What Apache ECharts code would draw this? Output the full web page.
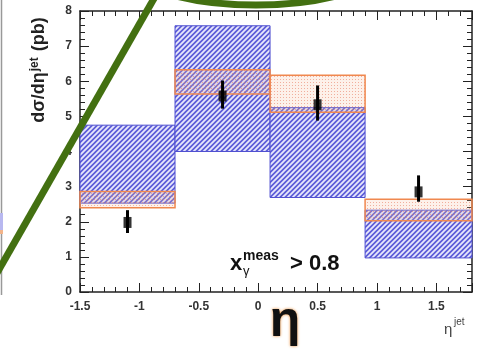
<!DOCTYPE html>
<html>
<head>
<meta charset="utf-8">
<script src="https://cdn.jsdelivr.net/npm/echarts@6/dist/echarts.min.js"></script>
<style>
  html, body { margin: 0; padding: 0; background: #fff; }
  #chart { width: 497px; height: 358px; }
</style>
</head>
<body>
<div id="chart"></div>
<script>
// bins in eta^jet and the two prediction bands (pb)
const binEdges = [-1.5, -0.7, 0.1, 0.9, 1.8]
const blueLow = [2.53, 4.0, 2.69, 0.97]
const blueHigh = [4.75, 7.58, 5.25, 2.33]
const orangeLow = [2.4, 5.64, 5.12, 2.03]
const orangeHigh = [2.86, 6.33, 6.17, 2.64]

// measured points with error bars
const pointX = [-1.1, -0.3, 0.5, 1.35]
const pointY = [1.98, 5.58, 5.33, 2.85]
const errLow = [1.68, 5.22, 4.88, 2.57]
const errHigh = [2.33, 6.02, 5.88, 3.32]

const xTicks = [-1.5, -1, -0.5, 0, 0.5, 1, 1.5]
const yTicks = [0, 1, 2, 3, 4, 5, 6, 7, 8]

function hatch() {
  const n = 5
  const c = document.createElement('canvas')
  c.width = n
  c.height = n
  const ctx = c.getContext('2d')
  ctx.fillStyle = '#5c5cd8'
  ctx.fillRect(0, 0, n, n)
  ctx.strokeStyle = '#e8e8fc'
  ctx.lineWidth = 1.8
  ctx.beginPath()
  ctx.moveTo(-1, n + 1); ctx.lineTo(n + 1, -1)
  ctx.moveTo(-1, 1); ctx.lineTo(1, -1)
  ctx.moveTo(n - 1, n + 1); ctx.lineTo(n + 1, n - 1)
  ctx.stroke()
  return c
}

function dots() {
  const n = 3
  const c = document.createElement('canvas')
  c.width = n
  c.height = n
  const ctx = c.getContext('2d')
  ctx.fillStyle = 'rgba(248, 190, 160, 0.22)'
  ctx.fillRect(0, 0, n, n)
  ctx.fillStyle = 'rgba(232, 120, 95, 0.55)'
  ctx.fillRect(1, 1, 1, 1)
  return c
}

const hatchImg = hatch()
const dotImg = dots()

function bandData(lo, hi) {
  return lo.map((v, i) => [binEdges[i], binEdges[i + 1], v, hi[i]])
}

function bandItem(makeStyle) {
  return (params, api) => {
    const p0 = api.coord([api.value(0), api.value(3)])
    const p1 = api.coord([api.value(1), api.value(2)])
    return {
      type: 'rect',
      shape: { x: p0[0], y: p0[1], width: p1[0] - p0[0], height: p1[1] - p0[1] },
      style: makeStyle(),
    }
  }
}

const axisColor = '#222'
const labelFont = { color: '#333', fontSize: 12, fontWeight: 'bold', fontFamily: 'Liberation Sans' }

function xAxis(pos, labels) {
  return {
    type: 'value',
    position: pos,
    min: xTicks[0],
    max: binEdges[binEdges.length - 1],
    interval: xTicks[1] - xTicks[0],
    axisLine: { onZero: false, lineStyle: { color: axisColor, width: 1.5 } },
    axisTick: { show: true, inside: true, length: 9, lineStyle: { color: axisColor, width: 1 } },
    minorTick: { show: true, splitNumber: 5, length: 5, lineStyle: { color: axisColor, width: 1 } },
    axisLabel: { show: labels, showMaxLabel: false, margin: 9, ...labelFont },
    splitLine: { show: false },
  }
}

function yAxis(pos, labels) {
  return {
    type: 'value',
    position: pos,
    min: yTicks[0],
    max: yTicks[yTicks.length - 1],
    interval: yTicks[1] - yTicks[0],
    axisLine: { show: true, onZero: false, lineStyle: { color: axisColor, width: 1.5 } },
    axisTick: { show: true, inside: true, length: 9, lineStyle: { color: axisColor, width: 1 } },
    minorTick: { show: true, splitNumber: 5, length: 5, lineStyle: { color: axisColor, width: 1 } },
    axisLabel: { show: labels, margin: 8, ...labelFont },
    splitLine: { show: false },
  }
}

const green = '#437011'
const textFont = 'Liberation Sans'

const chart = echarts.init(document.getElementById('chart'), null, { renderer: 'canvas' })
chart.setOption({
  backgroundColor: '#fff',
  animation: false,
  grid: { left: 80, right: 25, top: 11, bottom: 66 },
  xAxis: [xAxis('bottom', true), xAxis('top', false)],
  yAxis: [yAxis('left', true), yAxis('right', false)],
  series: [
    {
      type: 'custom',
      xAxisIndex: 0,
      yAxisIndex: 0,
      renderItem: bandItem(() => ({
        fill: { image: hatchImg, repeat: 'repeat' },
        stroke: '#5050d0',
        lineWidth: 1,
      })),
      data: bandData(blueLow, blueHigh),
      z: 2,
    },
    {
      type: 'custom',
      xAxisIndex: 0,
      yAxisIndex: 0,
      renderItem: bandItem(() => ({
        fill: { image: dotImg, repeat: 'repeat' },
        stroke: '#f0884f',
        lineWidth: 1.5,
      })),
      data: bandData(orangeLow, orangeHigh),
      z: 3,
    },
    {
      type: 'custom',
      xAxisIndex: 0,
      yAxisIndex: 0,
      renderItem: (params, api) => {
        const a = api.coord([api.value(0), api.value(1)])
        const b = api.coord([api.value(0), api.value(2)])
        return {
          type: 'line',
          shape: { x1: a[0], y1: a[1], x2: b[0], y2: b[1] },
          style: { stroke: '#000', lineWidth: 3 },
        }
      },
      data: pointX.map((x, i) => [x, errLow[i], errHigh[i]]),
      z: 4,
    },
    {
      type: 'scatter',
      xAxisIndex: 0,
      yAxisIndex: 0,
      symbol: 'rect',
      symbolSize: [8, 11],
      itemStyle: { color: '#000' },
      data: pointX.map((x, i) => [x, pointY[i]]),
      z: 5,
    },
  ],
  graphic: [
    // y axis title
    {
      type: 'text',
      x: 39,
      y: 70,
      rotation: Math.PI / 2,
      style: {
        text: '{a|dσ/dη}{s|jet}{a| (pb)}',
        align: 'center',
        verticalAlign: 'middle',
        rich: {
          a: { fontSize: 18, fontWeight: 'bold', fontFamily: textFont, fill: '#222' },
          s: { fontSize: 12, fontWeight: 'bold', fontFamily: textFont, fill: '#222', padding: [0, 1, 9, 1] },
        },
      },
    },
    // x_gamma^meas > 0.8
    { type: 'text', x: 230, y: 264, style: { text: 'x', fontSize: 22, fontWeight: 'bold', fontFamily: textFont, fill: '#111', verticalAlign: 'middle' } },
    { type: 'text', x: 243, y: 256, style: { text: 'meas', fontSize: 14, fontWeight: 'bold', fontFamily: textFont, fill: '#111', verticalAlign: 'middle' } },
    { type: 'text', x: 243, y: 271, style: { text: 'γ', fontSize: 13, fontFamily: textFont, fill: '#111', verticalAlign: 'middle' } },
    { type: 'text', x: 290, y: 264, style: { text: '> 0.8', fontSize: 22, fontWeight: 'bold', fontFamily: textFont, fill: '#111', verticalAlign: 'middle' } },
    // axis title bottom right
    { type: 'text', x: 444, y: 330, style: { text: 'η', fontSize: 15, fontFamily: textFont, fill: '#444', verticalAlign: 'middle' } },
    { type: 'text', x: 454, y: 322, style: { text: 'jet', fontSize: 10, fontFamily: textFont, fill: '#444', verticalAlign: 'middle' } },
    // big eta
    {
      type: 'text',
      x: 285,
      y: 322,
      z: 50,
      style: {
        text: 'η',
        fontSize: 50,
        fontWeight: 'bold',
        fontFamily: textFont,
        fill: '#111',
        align: 'center',
        verticalAlign: 'middle',
        textShadowColor: '#e8862a',
        textShadowBlur: 3,
      },
    },
    // slide edge on the left
    { type: 'line', shape: { x1: 1.5, y1: 0, x2: 1.5, y2: 295 }, style: { stroke: '#999', lineWidth: 1.5 } },
    { type: 'rect', shape: { x: 0, y: 213, width: 3, height: 17 }, style: { fill: '#b8b8f0' } },
    { type: 'rect', shape: { x: 0, y: 230, width: 3, height: 4 }, style: { fill: '#f2b48a' } },
    // green annotation strokes
    {
      type: 'ellipse',
      z: 100,
      shape: { cx: 256, cy: -42, rx: 135, ry: 47 },
      style: { fill: 'none', stroke: green, lineWidth: 7 },
    },
    {
      type: 'line',
      z: 100,
      shape: { x1: 156, y1: -5, x2: -3, y2: 273 },
      style: { stroke: green, lineWidth: 7 },
    },
  ],
})
</script>
</body>
</html>
